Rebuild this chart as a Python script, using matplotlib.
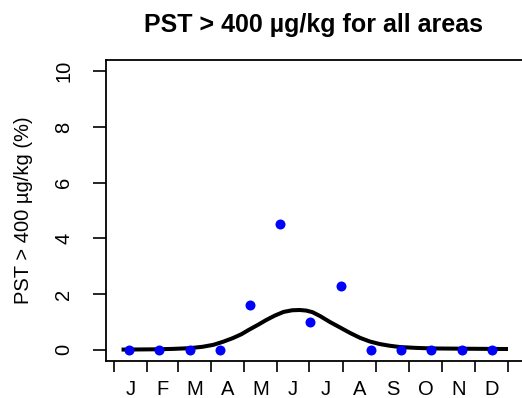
import matplotlib
matplotlib.use("Agg")
import matplotlib.pyplot as plt

plt.rcParams['font.family'] = ['Liberation Sans', 'DejaVu Sans']

# Data (x in day of year)
month_labels = ["J", "F", "M", "A", "M", "J", "J", "A", "S", "O", "N", "D"]
month_bounds = [0, 31, 59, 90, 120, 151, 181, 212, 243, 273, 304, 334, 365]
period_days = [14, 42, 70, 98, 126, 154, 182, 210, 238, 266, 294, 322, 350]
period_pct = [0, 0, 0, 0, 1.6, 4.52, 1.01, 2.3, 0, 0, 0, 0, 0]
curve_days = [7, 25, 40, 55, 70, 82, 92, 101, 110, 118, 125, 133, 141, 149, 157,
              165, 172, 178, 184, 191, 200, 210, 219, 228, 237, 246, 255, 265,
              280, 296, 312, 327, 345, 365]
curve_pct = [0.01, 0.015, 0.02, 0.035, 0.06, 0.11, 0.18, 0.29, 0.42, 0.56, 0.72,
             0.89, 1.07, 1.23, 1.36, 1.42, 1.43, 1.41, 1.35, 1.21, 1.0, 0.79,
             0.6, 0.43, 0.3, 0.21, 0.15, 0.10, 0.07, 0.05, 0.045, 0.04, 0.035, 0.03]
y_ticks = [0, 2, 4, 6, 8, 10]

W, H = 522, 398
fig = plt.figure(figsize=(W / 100, H / 100), dpi=100)
left_px, right_px, top_px, bot_px = 106, 524, 60, 361
ax = fig.add_axes([left_px / W, 1 - bot_px / H, (right_px - left_px) / W, (bot_px - top_px) / H])

ax.plot(curve_days, curve_pct, color="black", lw=2.9, solid_capstyle="butt", zorder=2)
ax.plot(period_days, period_pct, "o", color="#0000FF", ms=7.2, mec="none", zorder=3)

px_per_day = (508 - 114) / 365.0
ax.set_xlim((left_px - 114) / px_per_day, (right_px - 114) / px_per_day)
ax.set_ylim(-0.4, 10.4)

for s in ax.spines.values():
    s.set_linewidth(1.3)
    s.set_color("black")

ax.set_yticks(y_ticks)
ax.set_yticklabels([str(v) for v in y_ticks], rotation=90, va="center")
ax.tick_params(axis="y", length=9.5, width=1.2, pad=14, labelsize=14.5)

ax.set_xticks(month_bounds)
ax.set_xticklabels([""] * len(month_bounds))
centers = [(month_bounds[i] + month_bounds[i + 1]) / 2 for i in range(12)]
ax.set_xticks(centers, minor=True)
ax.set_xticklabels(month_labels, minor=True)
ax.tick_params(axis="x", which="major", length=8, width=1.2)
ax.tick_params(axis="x", which="minor", length=0, pad=13.5, labelsize=14.5)

ax.set_ylabel("PST > 400 µg/kg (%)", fontsize=14.5)
ax.yaxis.set_label_coords(-(106 - 33) / (right_px - left_px), 0.5)
fig.text(314 / W, 1 - 25 / H, "PST > 400 µg/kg for all areas", ha="center", va="center",
         fontsize=18, fontweight="bold")

fig.savefig("out.png", dpi=100)
